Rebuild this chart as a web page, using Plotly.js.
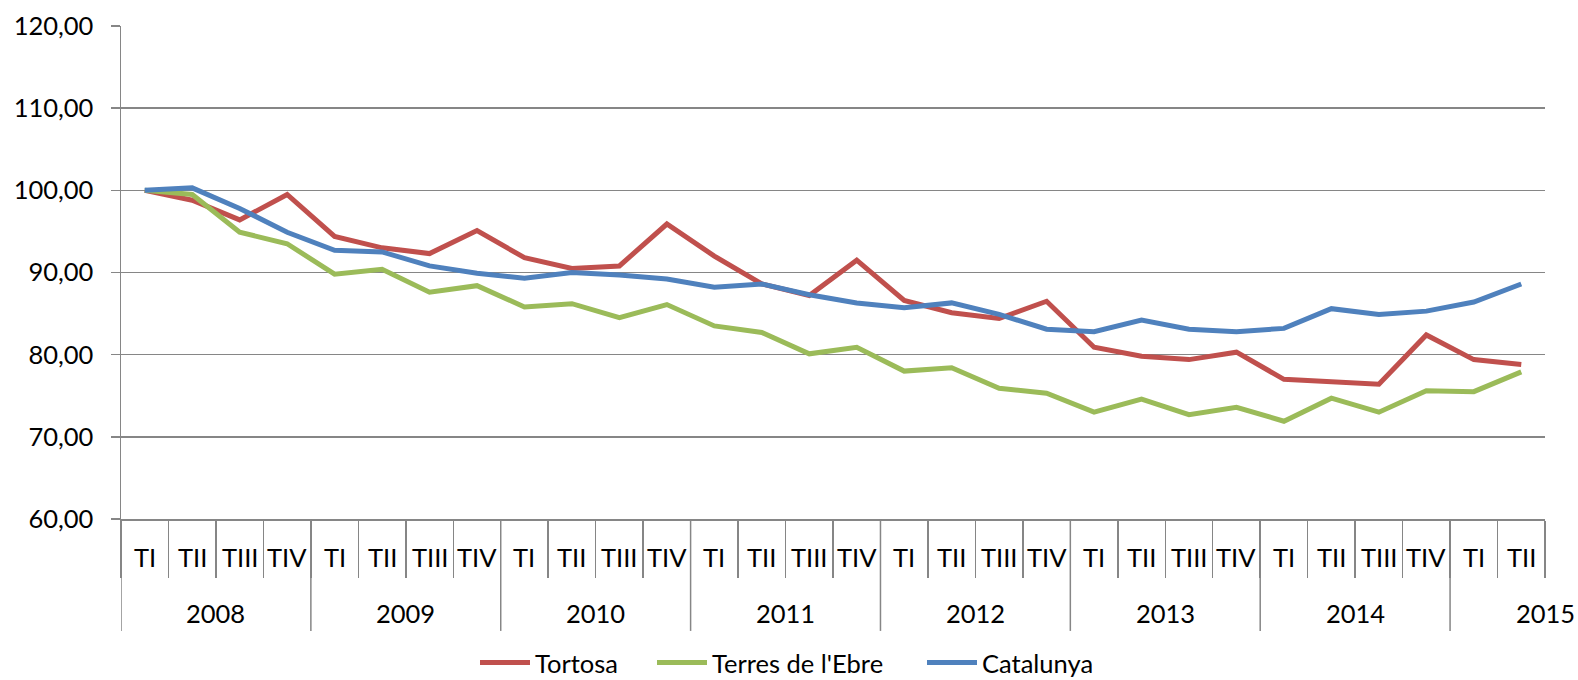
<!DOCTYPE html>
<html>
<head>
<meta charset="utf-8">
<script src="https://cdn.plot.ly/plotly-3.0.1.min.js"></script>
<style>html,body{margin:0;padding:0;background:#fff;}#chart{width:1578px;height:680px;}</style>
</head>
<body>
<div id="chart"></div>
<script>
const years = ["2008","2008","2008","2008","2009","2009","2009","2009","2010","2010","2010","2010","2011","2011","2011","2011","2012","2012","2012","2012","2013","2013","2013","2013","2014","2014","2014","2014","2015","2015"];
const quarters = ["TI","TII","TIII","TIV","TI","TII","TIII","TIV","TI","TII","TIII","TIV","TI","TII","TIII","TIV","TI","TII","TIII","TIV","TI","TII","TIII","TIV","TI","TII","TIII","TIV","TI","TII"];
const tortosa = [100.0,98.8,96.4,99.5,94.4,93.0,92.3,95.1,91.8,90.5,90.8,95.9,92.0,88.6,87.2,91.5,86.6,85.1,84.4,86.5,80.9,79.8,79.4,80.3,77.0,76.7,76.4,82.4,79.4,78.8];
const terres = [100.0,99.5,94.9,93.5,89.8,90.4,87.6,88.4,85.8,86.2,84.5,86.1,83.5,82.7,80.1,80.9,78.0,78.4,75.9,75.3,73.0,74.6,72.7,73.6,71.9,74.7,73.0,75.6,75.5,77.9];
const catalunya = [100.0,100.3,97.8,94.9,92.7,92.5,90.8,89.9,89.3,90.0,89.7,89.2,88.2,88.6,87.3,86.3,85.7,86.3,84.9,83.1,82.8,84.2,83.1,82.8,83.2,85.6,84.9,85.3,86.4,88.6];
const seriesNames = ["Tortosa","Terres de l'Ebre","Catalunya"];

const colors = ["#C0504D","#9BBB59","#4F81BD"];
const grey = "#868686";
const n = quarters.length;
const idx = quarters.map((_, i) => i);
const qBounds = [];
for (let i = 0; i <= n; i++) qBounds.push(i - 0.5);
const yearGroups = [];
years.forEach((y, i) => {
  const g = yearGroups[yearGroups.length - 1];
  if (g && g.year === y) g.end = i; else yearGroups.push({year: y, start: i, end: i});
});
const yBounds = yearGroups.map(g => g.start - 0.5);
const xr = [-0.5, n - 0.5];

const legendIds = ["legend", "legend2", "legend3"];
const data = [tortosa, terres, catalunya].map((v, i) => ({
  type: "scatter", mode: "lines", x: idx, y: v, name: seriesNames[i],
  line: {color: colors[i], width: 5}, legend: legendIds[i]
}));
const font = {family: "Lato, 'Open Sans', sans-serif", size: 25.5, color: "#000"};

const annotations = [];
quarters.forEach((q, i) => annotations.push({
  xref: "x", yref: "paper", x: i, y: -0.0771, yanchor: "middle", xanchor: "center",
  text: q, showarrow: false, font: font
}));
yearGroups.forEach((g, k) => annotations.push({
  xref: "x", yref: "paper",
  x: (k === yearGroups.length - 1) ? g.end + 0.5 : (g.start + g.end) / 2,
  y: -0.1907, yanchor: "middle", xanchor: "center",
  text: g.year, showarrow: false, font: font
}));

const shapes = yBounds.map(b => ({
  type: "line", xref: "x", yref: "paper", x0: b, x1: b, y0: 0, y1: -0.227,
  line: {color: grey, width: 1.5}, layer: "above"
}));

const legendX = [475, 652, 922];
function legendCfg(k) {
  return {orientation: "h", xref: "container", x: legendX[k] / 1578, xanchor: "left",
    yref: "container", y: 0.025, yanchor: "middle", font: font, itemwidth: 50,
    bgcolor: "rgba(0,0,0,0)", borderwidth: 0};
}

const layout = {
  width: 1578, height: 680,
  margin: {l: 121, r: 33, t: 26, b: 161},
  paper_bgcolor: "#fff", plot_bgcolor: "#fff",
  separators: ",.",
  font: font,
  showlegend: true,
  legend: legendCfg(0),
  legend2: legendCfg(1),
  legend3: legendCfg(2),
  xaxis: {
    type: "linear", range: xr, automargin: false,
    showgrid: false, zeroline: false,
    showline: true, linecolor: grey, linewidth: 1.5,
    tickmode: "array", tickvals: qBounds, ticktext: qBounds.map(() => ""),
    ticks: "outside", ticklen: 57, tickcolor: grey, tickwidth: 1.5
  },
  yaxis: {
    range: [60, 120], dtick: 10, tick0: 60, tickformat: ".2f", automargin: false,
    showgrid: true, gridcolor: grey, gridwidth: 1.5,
    showline: true, linecolor: grey, linewidth: 1.5,
    ticks: "outside", ticklen: 9, tickcolor: grey, tickwidth: 1.5,
    ticklabelstandoff: 12,
    zeroline: false, tickfont: font
  },
  annotations: annotations,
  shapes: shapes
};
Plotly.newPlot("chart", data, layout, {displayModeBar: false, staticPlot: true});
</script>
</body>
</html>
